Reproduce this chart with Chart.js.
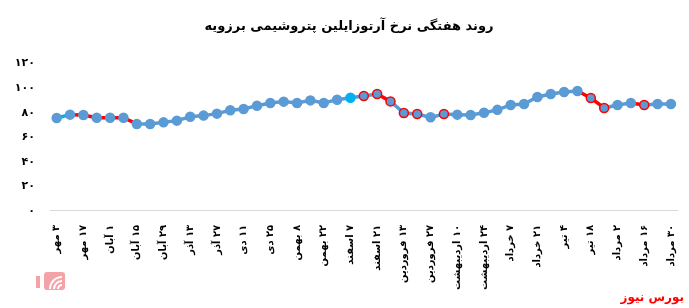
<!DOCTYPE html>
<html>
<head>
<meta charset="utf-8">
<script src="https://cdn.jsdelivr.net/npm/chart.js@4.4.0/dist/chart.umd.min.js"></script>
<style>
  html, body { margin: 0; padding: 0; background: #fff; }
  #wrap { width: 689px; height: 308px; }
</style>
</head>
<body>
<div id="wrap"><canvas id="rateChart" dir="rtl" width="689" height="308"></canvas></div>
<script>
// برچسب‌های محور افقی (هر دو هفته یک برچسب)
const tickLabels = ['۳ مهر', '۱۷ مهر', '۱ آبان', '۱۵ آبان', '۲۹ آبان', '۱۳ آذر', '۲۷ آذر', '۱۱ دی',
  '۲۵ دی', '۸ بهمن', '۲۲ بهمن', '۷ اسفند', '۲۱ اسفند', '۱۳ فروردین', '۲۷ فروردین',
  '۱۰ اردیبهشت', '۲۴ اردیبهشت', '۷ خرداد', '۲۱ خرداد', '۴ تیر', '۱۸ تیر', '۲ مرداد',
  '۱۶ مرداد', '۳۰ مرداد'];

// نرخ هفتگی
const weeklyRate = [75.7, 78.4, 78.1, 75.9, 75.9, 75.9, 70.8, 70.8, 72.1, 73.5,
  76.7, 77.6, 79.2, 81.9, 83.0, 85.7, 87.9, 89.0, 87.9, 90.0,
  87.9, 90.6, 92.2, 93.6, 95.2, 89.2, 79.7, 78.9, 76.2, 78.9,
  78.4, 78.1, 80.0, 82.3, 86.3, 87.1, 92.8, 95.2, 96.9, 97.7,
  92.0, 83.8, 86.3, 87.9, 86.3, 87.1, 87.1];

const yTickLabels = ['۰', '۲۰', '۴۰', '۶۰', '۸۰', '۱۰۰', '۱۲۰'];

// یک دسته برای هر هفته، برچسب فقط روی هفته‌های زوج
const categories = weeklyRate.map(function(v, i) {
  return i % 2 === 0 ? tickLabels[i / 2] : '';
});

// رنگ‌بندی خاص بخش‌ها و نقاط
const redSegments = [1, 2, 3, 4, 5, 24, 39, 40, 43];
const cyanSegments = [0];
const redBorderPoints = [23, 24, 25, 26, 27, 29, 40, 41, 44];
const cyanPoints = [22];

const BLUE = '#5b9bd5';
const RED = '#ff0000';
const CYAN = '#00b0f0';

const pointFill = weeklyRate.map(function(v, i) {
  return cyanPoints.indexOf(i) >= 0 ? CYAN : BLUE;
});
const pointBorder = weeklyRate.map(function(v, i) {
  if (redBorderPoints.indexOf(i) >= 0) return RED;
  return pointFill[i];
});

const FONT = "'DejaVu Sans', sans-serif";

// نوشته و نشان پایین صفحه
const brandPlugin = {
  id: 'brand',
  afterDraw: function(chart) {
    const c = chart.ctx;
    c.save();
    c.font = 'bold 12px ' + FONT;
    c.fillStyle = '#ff0000';
    c.textAlign = 'right';
    c.textBaseline = 'middle';
    c.fillText('بورس نیوز', 684, 298);

    // نشان کوچک صورتی
    c.globalAlpha = 0.45;
    c.fillStyle = '#e8303a';
    c.beginPath();
    c.roundRect(44, 272, 21, 18, 3);
    c.fill();
    c.fillRect(36, 276, 4, 12);
    c.globalAlpha = 1;
    c.strokeStyle = '#ffffff';
    c.lineWidth = 2;
    for (let r = 4; r <= 12; r += 4) {
      c.beginPath();
      c.arc(62, 289, r, Math.PI, Math.PI * 1.5);
      c.stroke();
    }
    c.restore();
  }
};

new Chart(document.getElementById('rateChart'), {
  type: 'line',
  data: {
    labels: categories,
    datasets: [{
      label: 'نرخ آرتوزایلین',
      data: weeklyRate,
      borderColor: BLUE,
      borderWidth: 3.5,
      tension: 0,
      pointRadius: 4.5,
      pointHoverRadius: 4.5,
      pointBorderWidth: 1.5,
      pointBackgroundColor: pointFill,
      pointBorderColor: pointBorder,
      segment: {
        borderColor: function(ctx) {
          if (redSegments.indexOf(ctx.p0DataIndex) >= 0) return RED;
          if (cyanSegments.indexOf(ctx.p0DataIndex) >= 0) return CYAN;
          return BLUE;
        }
      }
    }]
  },
  options: {
    responsive: false,
    animation: false,
    devicePixelRatio: 1,
    layout: { padding: { left: 12, right: 3, top: 0, bottom: 12 } },
    plugins: {
      legend: { display: false },
      tooltip: { enabled: false },
      title: {
        display: true,
        text: 'روند هفتگی نرخ آرتوزایلین پتروشیمی برزویه',
        color: '#000',
        font: { family: FONT, size: 13, weight: 'bold' },
        padding: { top: 19, bottom: 29 }
      }
    },
    scales: {
      x: {
        offset: true,
        grid: { display: false },
        border: { color: '#d9d9d9', width: 1 },
        ticks: {
          autoSkip: false,
          minRotation: 90,
          maxRotation: 90,
          padding: 6,
          color: '#000',
          font: { family: FONT, size: 10, weight: 'bold' }
        }
      },
      y: {
        min: 0,
        max: 120,
        grid: { display: false, drawTicks: false },
        border: { display: false },
        afterFit: function(scale) {
          scale.width = 38;
        },
        ticks: {
          stepSize: 20,
          padding: 15,
          color: '#000',
          font: { family: FONT, size: 11, weight: 'bold' },
          callback: function(value) {
            return yTickLabels[value / 20];
          }
        }
      }
    }
  },
  plugins: [brandPlugin]
});
</script>
</body>
</html>
